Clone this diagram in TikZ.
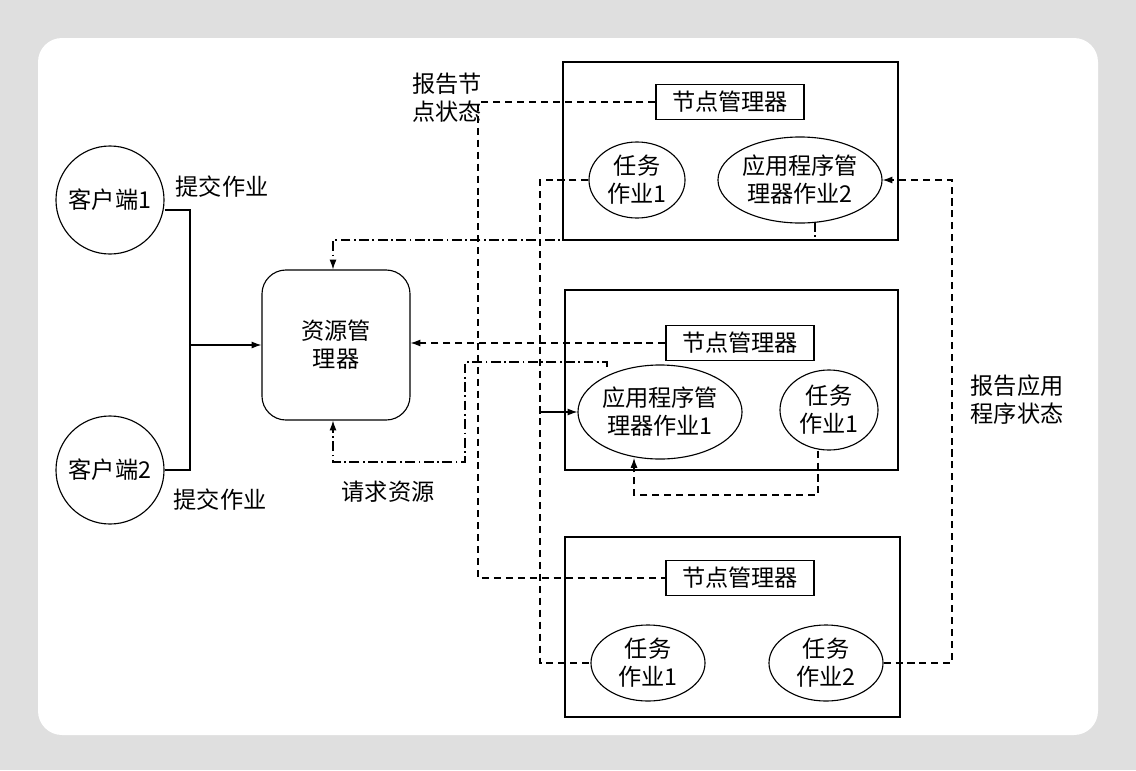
\documentclass[tikz,border=0pt]{standalone}
\usepackage{fontspec}
\newfontfamily\cjk{Noto Sans CJK SC}
\usetikzlibrary{shapes.geometric,arrows.meta}
\tikzset{
  client/.style={circle, draw, thick, minimum size=2.7cm, inner sep=0pt},
  job/.style={ellipse, draw, thick, inner sep=0pt, align=center},
  nm/.style={rectangle, draw, thick, minimum width=3.7cm, minimum height=0.875cm},
  host/.style={draw, thick},
  label/.style={align=center},
  report/.style={dash pattern=on 5pt off 3.5pt, thick},
  request/.style={dash pattern=on 7pt off 2.5pt on 1.2pt off 2.5pt, thick}
}
\begin{document}
\begin{tikzpicture}[x=0.025cm, y=-0.025cm, font=\cjk\fontsize{16.5}{20}\selectfont, >={Latex[length=7pt,width=5pt]}]

\fill[gray!25] (0,0) rectangle (1136,770);
\fill[white, rounded corners=0.6cm] (38,38) rectangle (1098,735);

% clients and resource manager
\node[client] (c1) at (110,200) {客户端1};
\node[client] (c2) at (110,470) {客户端2};
\node[draw, thick, rounded corners=0.6cm, minimum width=3.7cm, minimum height=3.75cm, align=center] (rm) at (336,345) {资源管\\理器};
\node[label] (sub1) at (222,187) {提交作业};
\node[label] (sub2) at (220,500) {提交作业};

% hosts
\draw[host] (563,62) rectangle (898,240);
\draw[host] (565,290) rectangle (898,470);
\draw[host] (565,537) rectangle (900,717);

\node[nm] (nm1) at (730,102) {节点管理器};
\node[job, minimum width=2.4cm, minimum height=1.9cm] (t1a) at (637,180) {任务\\作业1};
\node[job, minimum width=3.65cm, minimum height=2.15cm] (am2) at (800,180) {应用程序管\\理器作业2};

\node[nm] (nm2) at (740,343) {节点管理器};
\node[job, minimum width=3.25cm, minimum height=2.35cm] (am1) at (660,412) {应用程序管\\理器作业1};
\node[job, minimum width=2.45cm, minimum height=2cm] (t1b) at (829,410) {任务\\作业1};

\node[nm] (nm3) at (740,578) {节点管理器};
\node[job, minimum width=2.85cm, minimum height=1.9cm] (t1c) at (648,663) {任务\\作业1};
\node[job, minimum width=2.85cm, minimum height=1.9cm] (t2c) at (826,663) {任务\\作业2};

\node[label] (lnode) at (447,98) {报告节\\点状态};
\node[label] (lreq) at (388,492) {请求资源};
\node[label] (lapp) at (1017,400) {报告应用\\程序状态};

% submit jobs
\coordinate (j) at (190,345);
\draw[thick] (c1.east |- 0,210) -- (190,210) -- (190,470) -- (c2.east |- 0,470);
\draw[thick, ->] (j) -- (rm.west);

% node status
\draw[report] (nm1.west) -- (478,102) -- (478,578) -- (nm3.west);
\draw[report, ->] (nm2.west) -- (rm.east |- nm2.west);

% resource requests
\draw[request, ->] (815,222) -- (815,240) -- (333,240) -- (rm.north -| 333,0);
\draw[request, ->] (607,367) -- (607,362) -- (465,362) -- (465,462) -- (333,462) -- (rm.south -| 333,0);

% application status
\draw[report] (t1a.west) -- (540,180) -- (540,663) -- (t1c.west);
\draw[thick, ->] (540,412) -- (am1.west);
\draw[report, ->] (t1b.south -| 818,0) -- (818,495) -- (634,495) -- (634,458);
\draw[report, ->] (t2c.east) -- (952,663) -- (952,180) -- (am2.east);

\end{tikzpicture}
\end{document}
